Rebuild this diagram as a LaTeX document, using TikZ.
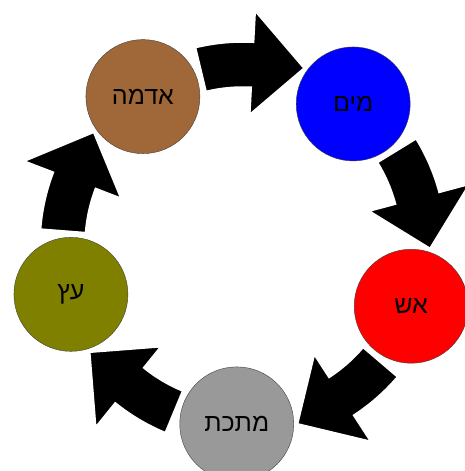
\documentclass[tikz,border=0pt]{standalone}
\usepackage{fontspec}
\usepackage{tikz}
\newfontfamily\hebfont[Script=Hebrew]{Liberation Sans}
\TeXXeTstate=1
\definecolor{earth}{RGB}{160,104,56}
\definecolor{wood}{RGB}{128,128,0}
\definecolor{metal}{RGB}{153,153,153}

\begin{document}
\begin{tikzpicture}[x=1pt,y=1pt,
  element/.style={circle,draw=black!75,thin,minimum size=114pt,inner sep=0pt,
    font=\hebfont\fontsize{25}{30}\selectfont},
  blockarrow/.style={fill=black,draw=white,line width=1.5pt}]
\useasboundingbox (-243,-226) rectangle (221,245);
\coordinate (c) at (0,0);

% the five elements
\foreach \a/\n/\col/\t in {124/adama/earth/אדמה, 52/mayim/blue/מים, -20/esh/red/אש,
  -92/matechet/metal/מתכת, 196/ets/wood/עץ} {
\node[element,fill=\col] (\n) at (\a:179) {\beginR\t\endR};
}

% the arrows between them
\foreach \m in {88,16,-56,-128,160} {
\path[blockarrow] ({\m+15.5}:203) arc[start angle=\m+15.5,end angle=\m-1,radius=203pt]
  -- ({\m-1}:234) -- ({\m-17}:187) -- ({\m-1}:131) -- ({\m-1}:158)
  arc[start angle=\m-1,end angle=\m+15.5,radius=158pt] -- cycle;
}

\end{tikzpicture}
\end{document}
